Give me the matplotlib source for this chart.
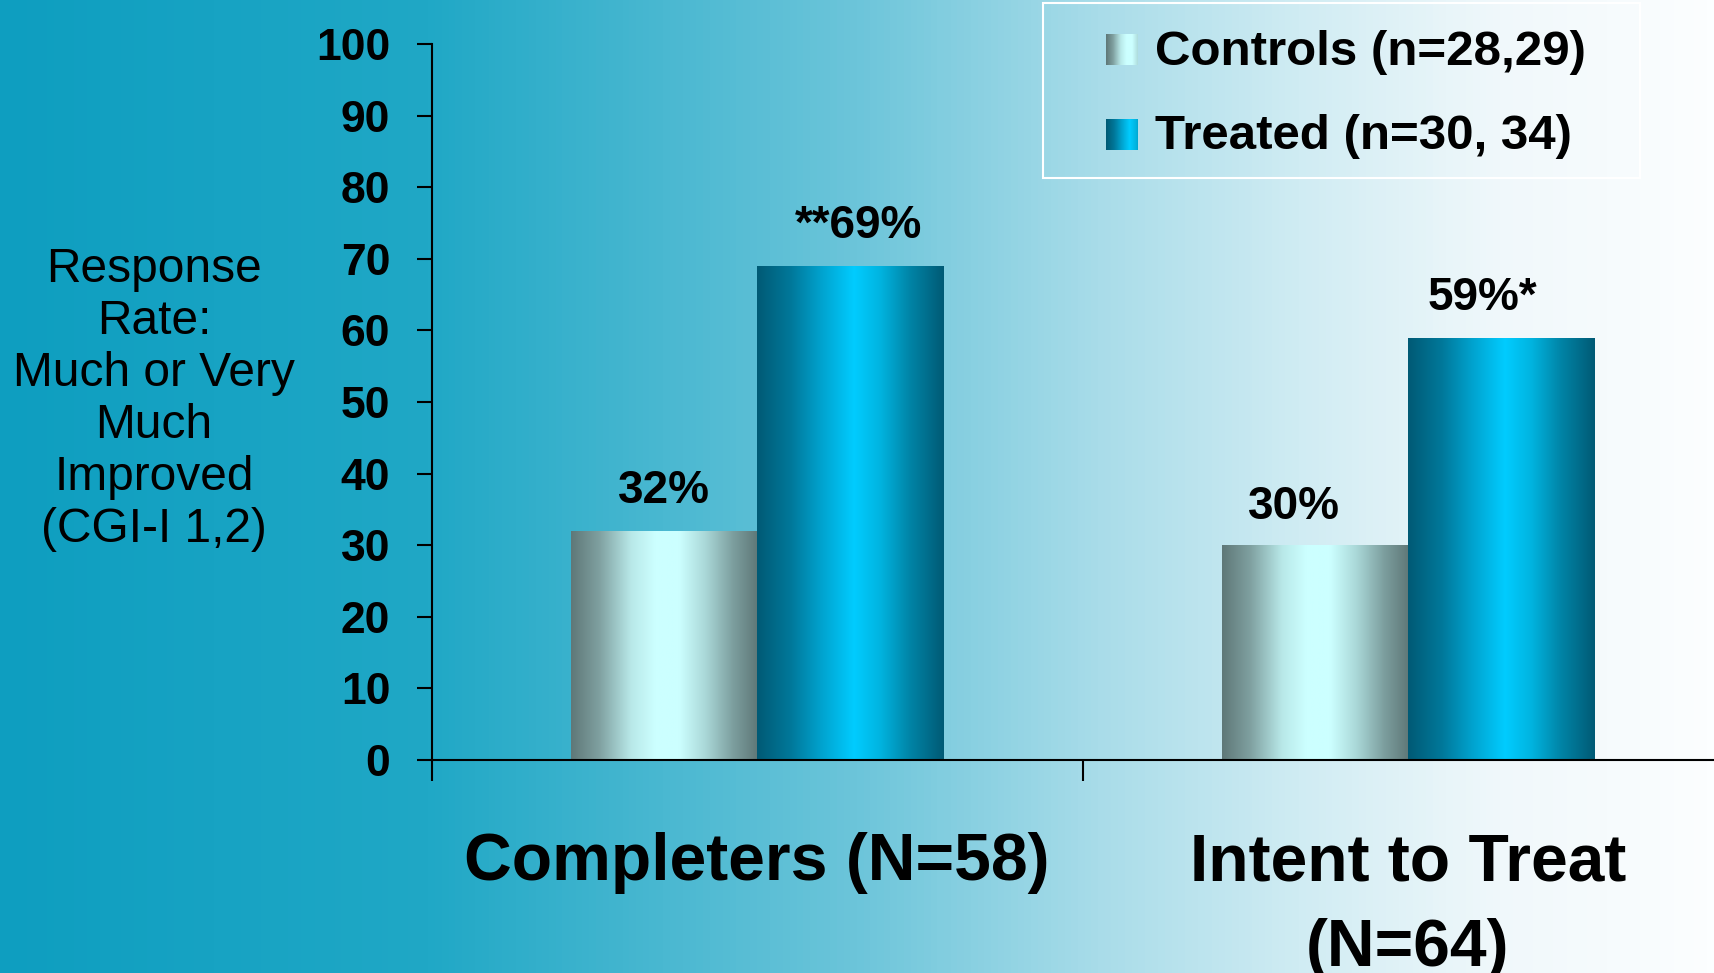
import numpy as np
import matplotlib
matplotlib.use('Agg')
import matplotlib.pyplot as plt
from matplotlib.colors import LinearSegmentedColormap
from matplotlib.patches import Rectangle

# data
categories = ['Completers (N=58)', 'Intent to Treat\n(N=64)']
series_names = ['Controls (n=28,29)', 'Treated (n=30, 34)']
controls = [32, 30]
treated = [69, 59]
control_labels = ['32%', '30%']
treated_labels = ['**69%', '59%*']
yticks = [0, 10, 20, 30, 40, 50, 60, 70, 80, 90, 100]
ylabel = 'Response\nRate:\nMuch or Very\nMuch\nImproved\n(CGI-I 1,2)'

W, H = 1714, 973
fam = 'Liberation Sans'

# gradients
bg_cmap = LinearSegmentedColormap.from_list('bg', [
    (0.0, '#0e9ec0'), (0.25, '#20a8c6'), (0.5, '#6cc5da'), (0.64, '#a8dce9'),
    (0.76, '#d0ecf3'), (0.875, '#f0f8fb'), (1.0, '#fcfeff')])
ctrl_cmap = LinearSegmentedColormap.from_list('ctrl', [
    (0.0, '#5f7878'), (0.15, '#7fa0a0'), (0.32, '#b8e8e8'), (0.45, '#ccffff'),
    (0.58, '#ccffff'), (0.72, '#aad8d8'), (0.87, '#7c9e9e'), (1.0, '#5f7878')])
trt_cmap = LinearSegmentedColormap.from_list('trt', [
    (0.0, '#005a75'), (0.18, '#00789a'), (0.35, '#00a4d0'), (0.52, '#00ccff'),
    (0.66, '#00b4e0'), (0.82, '#0084a6'), (1.0, '#005a75')])

fig = plt.figure(figsize=(W / 100, H / 100), dpi=100)

bg = fig.add_axes([0, 0, 1, 1])
bg.imshow(np.linspace(0, 1, 512)[None, :], cmap=bg_cmap, aspect='auto', extent=[0, 1, 0, 1])
bg.axis('off')

ax = fig.add_axes([432 / W, 213 / H, 1301 / W, 716 / H])
ax.set_facecolor('none')

x = np.arange(len(categories))
w = 0.286
grad = np.linspace(0, 1, 256)[None, :]
for vals, cmap, off in [(controls, ctrl_cmap, -w / 2), (treated, trt_cmap, w / 2)]:
    bars = ax.bar(x + off, vals, w, facecolor='none', edgecolor='none', zorder=2)
    for b in bars:
        im = ax.imshow(grad, cmap=cmap, aspect='auto', zorder=2,
                       extent=[b.get_x(), b.get_x() + b.get_width(), 0, b.get_height()])
        im.set_clip_path(b)

# value labels
ctrl_off = [(0, 20), (-15, 19)]
trt_off = [(6, 20), (-13, 20)]
for i in range(len(categories)):
    ax.annotate(control_labels[i], (x[i] - w / 2, controls[i]), xytext=ctrl_off[i],
                textcoords='offset points', ha='center', va='baseline',
                fontsize=33, fontweight='bold', family=fam)
    ax.annotate(treated_labels[i], (x[i] + w / 2, treated[i]), xytext=trt_off[i],
                textcoords='offset points', ha='center', va='baseline',
                fontsize=33, fontweight='bold', family=fam)

ax.set_xlim(-0.5, 1.5)
ax.set_ylim(0, 100)
ax.set_yticks(yticks)
ax.set_yticklabels([str(t) for t in yticks], fontsize=32, fontweight='bold', family=fam)
ax.tick_params(axis='y', length=11, width=1.5, pad=19, direction='out')
ax.set_xticks(x)
ax.set_xticklabels(categories, fontsize=47.5, fontweight='bold', family=fam, linespacing=1.5)
ax.set_xticks([-0.5, 0.5, 1.5], minor=True)
ax.tick_params(axis='x', which='major', length=0, pad=52)
ax.tick_params(axis='x', which='minor', length=15, width=1.5, direction='out')
for s in ['top', 'right']:
    ax.spines[s].set_visible(False)
for s in ['left', 'bottom']:
    ax.spines[s].set_linewidth(1.5)
ax.spines['left'].set_bounds(0, 100)

fig.text(154 / W, 1 - 400 / H, ylabel, ha='center', va='center', multialignment='center',
         fontsize=34.5, family=fam, linespacing=1.2)

# legend drawn by hand to keep the gradient swatches
fig.patches.append(Rectangle((1043 / W, 1 - 178 / H), 597 / W, 175 / H, transform=fig.transFigure,
                             facecolor='none', edgecolor='white', linewidth=1.5))
sw_tops = [34, 119]
baselines = [65, 149]
for name, cmap, top, base in zip(series_names, [ctrl_cmap, trt_cmap], sw_tops, baselines):
    sw = fig.add_axes([1106 / W, 1 - (top + 31) / H, 32 / W, 31 / H])
    sw.imshow(np.linspace(0, 0.7, 64)[None, :], cmap=cmap, vmin=0, vmax=1, aspect='auto')
    sw.axis('off')
    fig.text(1155 / W, 1 - base / H, name, ha='left', va='baseline', fontsize=35.5,
             fontweight='bold', family=fam)

fig.savefig('out.png', dpi=100)
